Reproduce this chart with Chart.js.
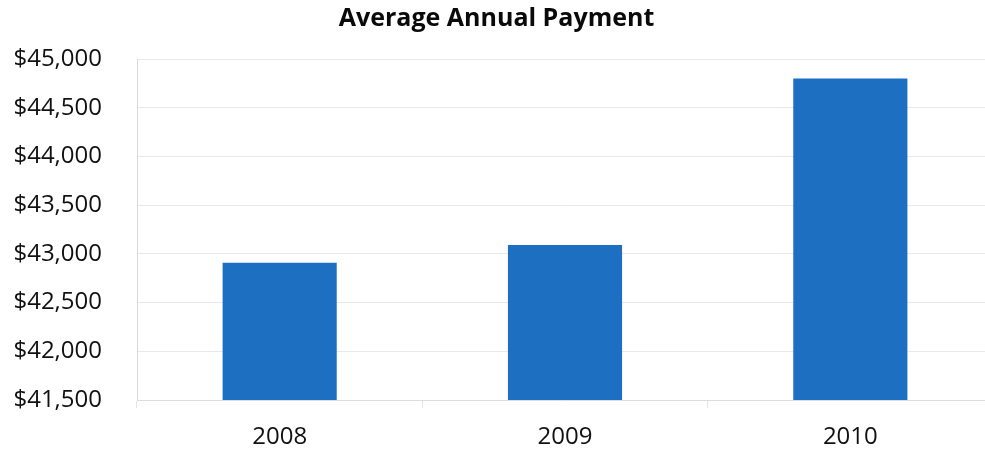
<!DOCTYPE html>
<html>
<head>
<meta charset="utf-8">
<script src="https://cdn.jsdelivr.net/npm/chart.js@4/dist/chart.umd.min.js"></script>
<style>
    html, body { margin: 0; padding: 0; background: #fff; overflow: hidden; }
    #wrap { width: 993px; height: 452px; }
</style>
</head>
<body>
<div id="wrap"><canvas id="payment-chart"></canvas></div>
<script>
    "use strict";

    // Data
    var years = ["2008", "2009", "2010"];
    var avgPayment = [42910, 43090, 44800];
    var yMin = 41500;
    var yMax = 45000;
    var yStep = 500;

    Chart.defaults.font.family = "'Open Sans', sans-serif";
    Chart.defaults.color = "#111";

    var ctx = document.getElementById("payment-chart").getContext("2d");
    var myChart = new Chart(ctx, {
        type: "bar",
        data: {
            labels: years,
            datasets: [{
                label: "Average Annual Payment",
                data: avgPayment,
                backgroundColor: "#1d6fc2",
                categoryPercentage: 1,
                barPercentage: 0.4
            }]
        },
        options: {
            responsive: true,
            maintainAspectRatio: false,
            animation: false,
            layout: { padding: 0 },
            plugins: {
                legend: { display: false },
                tooltip: { enabled: false },
                title: {
                    display: true,
                    text: "Average Annual Payment",
                    color: "#0a0a0a",
                    font: { size: 25, weight: "bold" },
                    padding: { top: 4, bottom: 25 }
                }
            },
            scales: {
                x: {
                    grid: {
                        drawOnChartArea: false,
                        drawTicks: true,
                        tickLength: 8,
                        color: "#e4e4ea"
                    },
                    border: { color: "#dcdce4" },
                    ticks: { font: { size: 24 }, padding: 15, color: "#111" },
                    afterFit: function (scale) { scale.height = 52; }
                },
                y: {
                    min: yMin,
                    max: yMax,
                    grid: { color: "#e8e8ee", drawTicks: false },
                    border: { color: "#d8d8e2" },
                    ticks: {
                        stepSize: yStep,
                        padding: 35,
                        font: { size: 24 },
                        color: "#111",
                        callback: function (v) {
                            return "$" + v.toLocaleString("en-US");
                        }
                    },
                    afterFit: function (scale) { scale.width = 137; }
                }
            }
        }
    });
</script>
</body>
</html>
